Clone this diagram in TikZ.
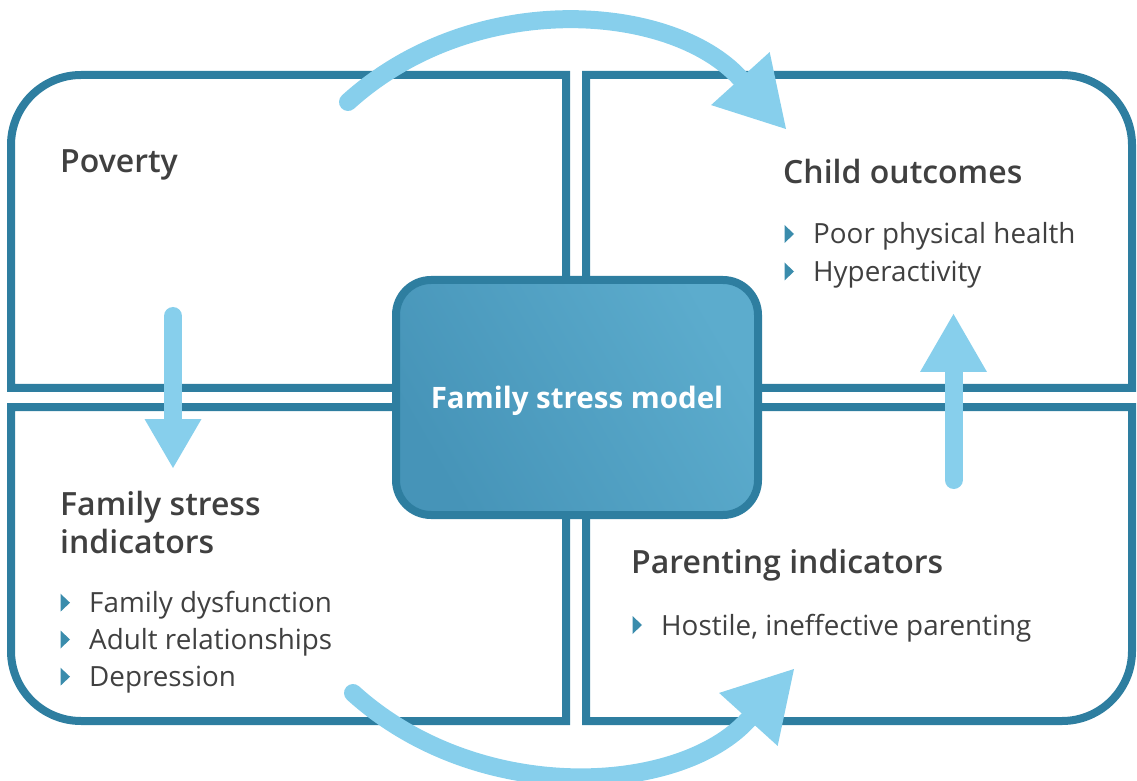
\documentclass[tikz,border=0pt]{standalone}
\usepackage{fontspec}
\setmainfont{Open Sans}[BoldFont={Open Sans Semibold}]
\newfontfamily\modelfont{Open Sans Bold}
\usetikzlibrary{arrows.meta}
\definecolor{panelblue}{RGB}{46,126,160}
\definecolor{flowblue}{RGB}{135,207,236}
\definecolor{bulletblue}{RGB}{58,140,172}
\definecolor{textgray}{RGB}{64,64,64}
\definecolor{boxdark}{RGB}{70,148,184}
\definecolor{boxlight}{RGB}{92,172,205}

\begin{document}
\begin{tikzpicture}[x=1pt, y=1pt,
    panel/.style = {draw=panelblue, line width=8pt},
    box/.style = {draw=panelblue, line width=8pt, rounded corners=35pt,
      minimum width=362pt, minimum height=235pt, left color=boxdark,
      right color=boxlight, shading angle=120, text=white, text depth=0pt,
      font=\modelfont\fontsize{29.5}{35}\selectfont},
    head/.style = {inner sep=0pt, anchor=base west, align=left, text=textgray,
      font=\bfseries\fontsize{32}{38}\selectfont},
    item/.style = {inner sep=0pt, anchor=base west, text=textgray,
      font=\fontsize{27.8}{33}\selectfont},
    flow/.style = {draw=flowblue, line width=18pt, line cap=round}]
    \useasboundingbox (0,0) rectangle (1137,780);
    % Laatikot
    \draw[panel] (566,392) -- (11,392) -- (11,635) arc[start angle=180, end angle=90, radius=70pt] -- (566,705) -- cycle;	% vasen ylä
    \draw[panel] (586,392) -- (1132,392) -- (1132,635) arc[start angle=0, end angle=90, radius=70pt] -- (586,705) -- cycle;	% oikea ylä
    \draw[panel] (566,373) -- (11,373) -- (11,129) arc[start angle=180, end angle=270, radius=70pt] -- (566,59) -- cycle;	% vasen ala
    \draw[panel] (586,373) -- (1132,373) -- (1132,129) arc[start angle=0, end angle=-90, radius=70pt] -- (586,59) -- cycle;	% oikea ala
    \node[box] (model) at (577,382.5) {Family stress model};
    % Tekstit
    \node[head] (poverty) at (60,607.5) {Poverty};
    \node[head] (child) at (783,596) {Child outcomes};
    \node[item] (co1) at (813,536) {Poor physical health};
    \node[item] (co2) at (813,498.5) {Hyperactivity};
    \node[head] (fsi) at (60,227) {Family stress\\indicators};
    \node[item] (fs1) at (89,167.3) {Family dysfunction};
    \node[item] (fs2) at (89,130.5) {Adult relationships};
    \node[item] (fs3) at (89,93.3) {Depression};
    \node[head] (parent) at (631,207) {Parenting indicators};
    \node[item] (pi1) at (661,145) {Hostile, ineffective parenting};
    \foreach \n in {co1,co2,fs1,fs2,fs3,pi1}
      \fill[bulletblue] ([shift={(-28.5,1)}]\n.base west) -- ++(9.5,9) -- ++(-9.5,9) -- cycle;
    % Nuolet
    \coordinate (povout) at (348,678);
    \coordinate (childin) at (786,651);
    \coordinate (povdown) at (173,464);
    \coordinate (fsiin) at (173,312);
    \coordinate (fsiout) at (353,87);
    \coordinate (parentin) at (794,111);
    \coordinate (parentup) at (953.5,300);
    \coordinate (childup) at (953.5,466);
    \draw[flow, -{Triangle[length=68pt, width=79pt, line width=0pt]}] (povout) .. controls (474,792) and (672,777) .. (childin);	% yläkaari
    \draw[flow, -{Triangle[length=49pt, width=57pt, line width=0pt]}] (povdown) -- (fsiin);	% alas
    \draw[flow, -{Triangle[length=68pt, width=79pt, line width=0pt]}] (fsiout) .. controls (479,-27) and (680,-15) .. (parentin);	% alakaari
    \draw[flow, -{Triangle[length=58pt, width=67pt, line width=0pt]}] (parentup) -- (childup);	% ylös
\end{tikzpicture}
\end{document}
